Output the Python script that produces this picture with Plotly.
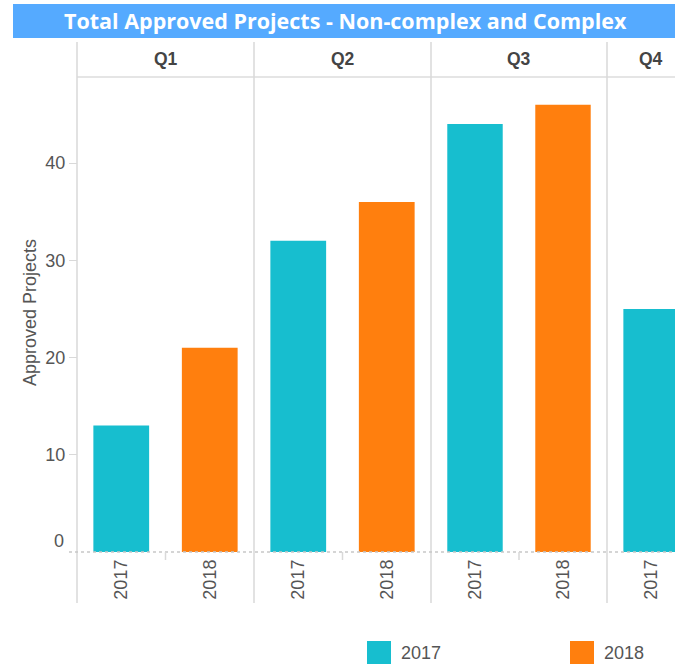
import plotly.graph_objects as go

# ---- data ----
quarters = ["Q1", "Q2", "Q3", "Q4"]
years = ["2017", "2018"]
values_2017 = [13, 32, 44, 25]
values_2018 = [21, 36, 46, None]   # Q4 2018 is cut off in the reference
colors = {"2017": "#17BECF", "2018": "#FF7F0E"}
y_ticks = [0, 10, 20, 30, 40]
title_text = "Total Approved Projects - Non-complex and Complex"
y_title = "Approved Projects"

W, H = 675, 664
def px(x):
    return x / W
def py(y):
    return 1 - y / H

# facet column pixel boundaries
col_edges = [77, 254, 431, 607, 675]
plot_top, plot_bottom = 77, 552
band = 88.5
x_ranges = [[-0.5, 1.5]] * 3 + [[-0.5, -0.5 + (675 - 607) / band]]
y_max = (plot_bottom - plot_top) / ((plot_bottom - 163) / 40.0)

FS = 18

fig = go.Figure()
series = {"2017": values_2017, "2018": values_2018}
for qi, q in enumerate(quarters):
    xa = "x" if qi == 0 else f"x{qi+1}"
    for yr in years:
        v = series[yr][qi]
        if v is None:
            continue
        fig.add_trace(go.Bar(
            x=[yr], y=[v], xaxis=xa, yaxis="y",
            marker=dict(color=colors[yr], line=dict(width=0)),
            width=0.63, name=yr, showlegend=False,
            hovertemplate=f"{q} {yr}: %{{y}}<extra></extra>",
        ))

layout = dict(
    width=W, height=H,
    margin=dict(l=0, r=0, t=0, b=0),
    paper_bgcolor="white", plot_bgcolor="white",
    barmode="overlay",
    showlegend=False,
    font=dict(family="Liberation Sans, Arial, sans-serif", color="#555555"),
    yaxis=dict(
        domain=[py(plot_bottom), py(plot_top)],
        range=[0, y_max],
        tickvals=y_ticks[1:],
        ticktext=[str(t) for t in y_ticks[1:]],
        tickfont=dict(size=FS, color="#555555"),
        ticks="outside", ticklen=8, tickcolor="#d9d9d9", tickwidth=1,
        showgrid=False, zeroline=False, showline=False,
        anchor="free", position=px(77),
        fixedrange=True,
    ),
)
for qi in range(4):
    key = "xaxis" if qi == 0 else f"xaxis{qi+1}"
    layout[key] = dict(
        domain=[px(col_edges[qi]), px(col_edges[qi + 1])],
        range=x_ranges[qi],
        type="category",
        categoryorder="array", categoryarray=years,
        anchor="y",
        tickangle=-90,
        ticklabelstandoff=3,
        tickfont=dict(size=FS, color="#555555"),
        ticks="", showgrid=False, zeroline=False, showline=False,
        fixedrange=True,
    )
fig.update_layout(**layout)

shapes = []
annotations = []
# title bar
shapes.append(dict(type="rect", xref="paper", yref="paper",
                   x0=px(13), x1=px(675), y0=py(38), y1=py(4),
                   fillcolor="#55AAFF", line=dict(width=0), layer="below"))
annotations.append(dict(text=f"<b>{title_text}</b>", xref="paper", yref="paper",
                        x=px(345), y=py(21), showarrow=False,
                        font=dict(family="Open Sans, DejaVu Sans, sans-serif", size=21.5, color="white"),
                        xanchor="center", yanchor="middle"))
# header bottom line
shapes.append(dict(type="line", xref="paper", yref="paper",
                   x0=px(77), x1=px(675), y0=py(plot_top), y1=py(plot_top),
                   line=dict(color="#dcdcdc", width=1.5)))
# vertical facet dividers
for xe in col_edges[:4]:
    shapes.append(dict(type="line", xref="paper", yref="paper",
                       x0=px(xe), x1=px(xe), y0=py(603), y1=py(42),
                       line=dict(color="#d9d9d9", width=1.5)))
# zero baseline (dotted)
shapes.append(dict(type="line", xref="paper", yref="paper",
                   x0=px(69), x1=px(675), y0=py(plot_bottom), y1=py(plot_bottom),
                   line=dict(color="#c8c8c8", width=1.5, dash="dot")))
# mid-facet ticks
for qi in range(3):
    mid = (col_edges[qi] + col_edges[qi + 1]) / 2
    shapes.append(dict(type="line", xref="paper", yref="paper",
                       x0=px(mid), x1=px(mid), y0=py(plot_bottom), y1=py(560),
                       line=dict(color="#d9d9d9", width=1.5)))
# facet headers
for qi, q in enumerate(quarters):
    cx = (col_edges[qi] + col_edges[qi + 1]) / 2 if qi < 3 else col_edges[3] + band / 2
    annotations.append(dict(text=f"<b>{q}</b>", xref="paper", yref="paper",
                            x=px(cx), y=py(59), showarrow=False,
                            xanchor="center", yanchor="middle",
                            font=dict(size=17.5, color="#444444")))
# zero label (nudged up as in reference)
annotations.append(dict(text=str(y_ticks[0]), xref="paper", yref="paper",
                        x=px(66), y=py(541), showarrow=False,
                        xanchor="right", yanchor="middle",
                        font=dict(size=FS, color="#555555")))
# y-axis title
annotations.append(dict(text=y_title, xref="paper", yref="paper",
                        x=px(30), y=py(313), showarrow=False, textangle=-90,
                        xanchor="center", yanchor="middle",
                        font=dict(size=FS, color="#555555")))
# legend
legend_pos = {"2017": 367, "2018": 570}
for yr in years:
    x0 = legend_pos[yr]
    shapes.append(dict(type="rect", xref="paper", yref="paper",
                       x0=px(x0), x1=px(x0 + 24), y0=py(664), y1=py(641),
                       fillcolor=colors[yr], line=dict(width=0)))
    annotations.append(dict(text=yr, xref="paper", yref="paper",
                            x=px(x0 + 32), y=py(653), showarrow=False,
                            xanchor="left", yanchor="middle",
                            font=dict(size=FS, color="#555555")))
fig.update_layout(shapes=shapes, annotations=annotations)

fig.write_html("out.html",
               config={"displayModeBar": False},
               post_script="document.body.style.margin='0';document.body.style.overflow='hidden';")
